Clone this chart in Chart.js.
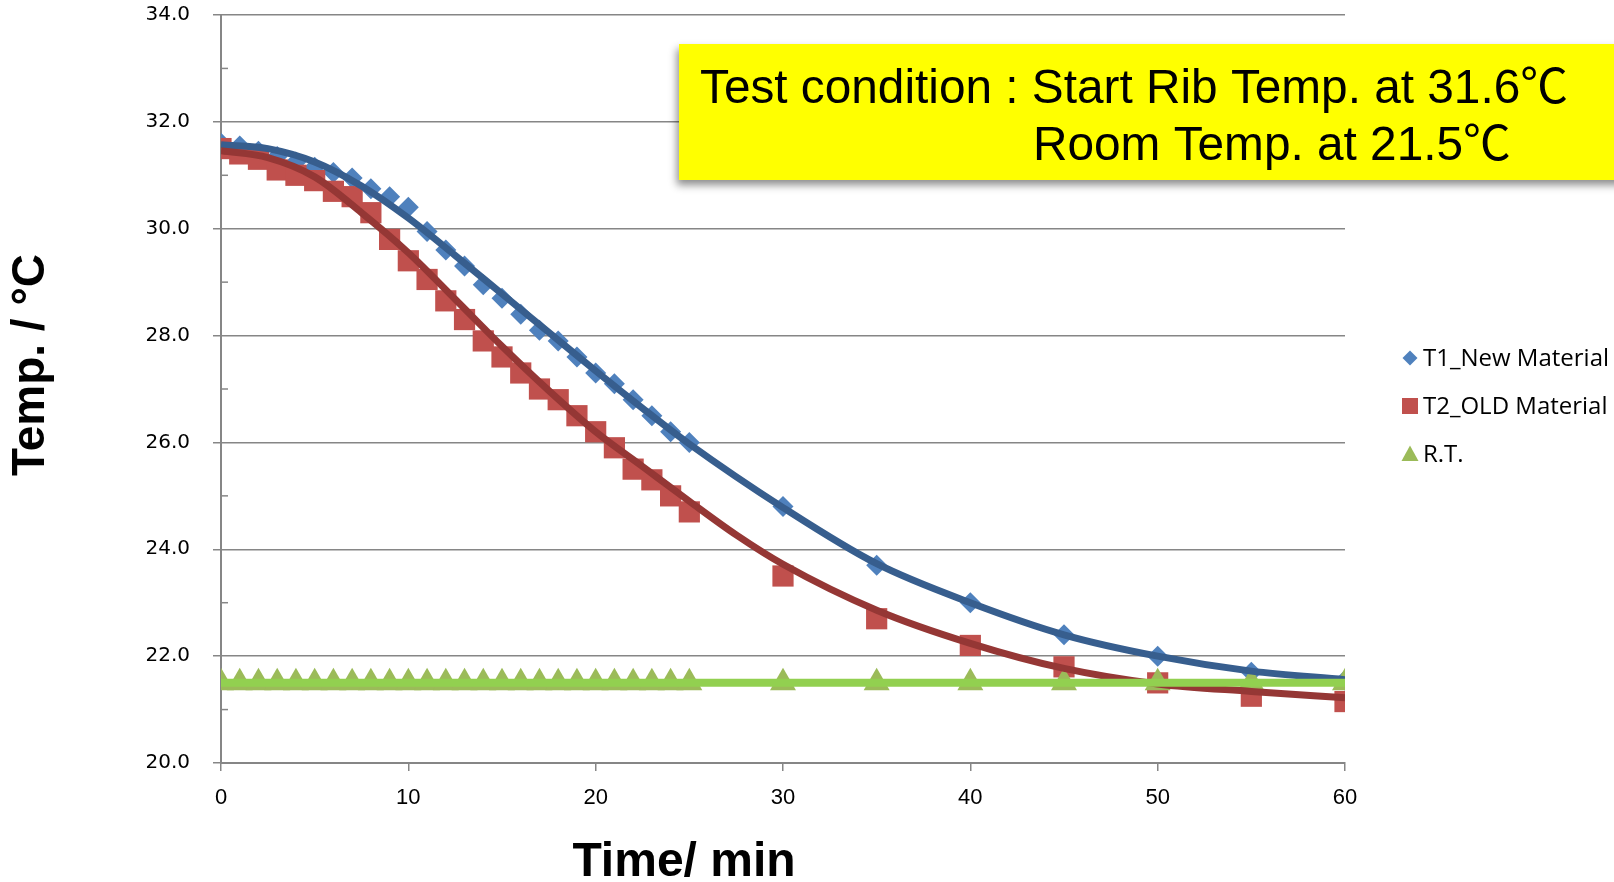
<!DOCTYPE html>
<html>
<head>
<meta charset="utf-8">
<script src="https://cdn.jsdelivr.net/npm/chart.js@4.4.0/dist/chart.umd.min.js"></script>
<style>
	html, body { margin: 0; padding: 0; background: #fff; }
	#wrap { width: 1614px; height: 882px; position: relative; }
</style>
</head>
<body>
<div id="wrap"><canvas id="chart"></canvas></div>
<script>
// measured points (min / deg C)
const minutes = [0, 1, 2, 3, 4, 5, 6, 7, 8, 9, 10, 11, 12, 13, 14, 15, 16, 17, 18, 19, 20, 21, 22, 23, 24, 25, 30, 35, 40, 45, 50, 55, 60];
const t1New = [31.6, 31.55, 31.45, 31.35, 31.25, 31.15, 31.05, 30.95, 30.75, 30.6, 30.4, 29.95, 29.6, 29.3, 28.95, 28.7, 28.4, 28.1, 27.9, 27.6, 27.3, 27.1, 26.8, 26.5, 26.2, 26.0, 24.8, 23.7, 23.0, 22.4, 22.0, 21.7, 21.55];
const t2Old = [31.5, 31.4, 31.3, 31.1, 31.0, 30.9, 30.7, 30.6, 30.3, 29.8, 29.4, 29.05, 28.65, 28.3, 27.9, 27.6, 27.3, 27.0, 26.8, 26.5, 26.2, 25.9, 25.5, 25.3, 25.0, 24.7, 23.5, 22.7, 22.2, 21.8, 21.5, 21.25, 21.15];
const roomTemp = [21.5, 21.5, 21.5, 21.5, 21.5, 21.5, 21.5, 21.5, 21.5, 21.5, 21.5, 21.5, 21.5, 21.5, 21.5, 21.5, 21.5, 21.5, 21.5, 21.5, 21.5, 21.5, 21.5, 21.5, 21.5, 21.5, 21.5, 21.5, 21.5, 21.5, 21.5, 21.5, 21.5];

// trend lines
const t1TrendMinutes = [0, 2.5, 5, 7.5, 10, 12.5, 15, 17.5, 20, 22.5, 25, 30, 35, 40, 45, 50, 55, 60];
const t1Trend = [31.57, 31.5, 31.25, 30.8, 30.2, 29.5, 28.78, 28.06, 27.34, 26.64, 25.97, 24.78, 23.73, 23.0, 22.4, 22.0, 21.72, 21.56];
const t2TrendMinutes = [0, 2.5, 5, 7.5, 10, 12.5, 15, 17.5, 20, 22.5, 25, 27.5, 30, 35, 40, 45, 50, 55, 60];
const t2Trend = [31.46, 31.33, 30.97, 30.3, 29.55, 28.68, 27.8, 26.97, 26.2, 25.55, 24.9, 24.27, 23.72, 22.86, 22.24, 21.77, 21.48, 21.34, 21.22];
const rtTrendMinutes = [0, 60];
const rtTrend = [21.5, 21.5];

const seriesNames = ['T1_New Material', 'T2_OLD Material', 'R.T.'];
const noteLines = ['Test condition : Start Rib Temp. at 31.6\u2103', 'Room Temp. at 21.5\u2103'];
const xTitle = 'Time/ min';
const yTitle = 'Temp. / \u00B0C';

const pairs = (xs, ys) => xs.map((x, i) => ({x: x, y: ys[i]}));

const GRID = '#868686';

const extras = {
	id: 'extras',
	beforeDatasetsDraw(chart) {
		const ctx = chart.ctx;
		const area = chart.chartArea;
		const y = chart.scales.y;
		ctx.save();
		ctx.strokeStyle = GRID;
		ctx.lineWidth = 1.5;
		for (let v = 21; v < 34; v += 2) {
			const py = y.getPixelForValue(v);
			ctx.beginPath();
			ctx.moveTo(area.left, py);
			ctx.lineTo(area.left + 7, py);
			ctx.stroke();
		}
		ctx.restore();
	},
	afterDraw(chart) {
		const ctx = chart.ctx;
		ctx.save();

		// axis titles
		ctx.fillStyle = '#000';
		ctx.font = 'bold 48px "Liberation Sans", Arial, sans-serif';
		ctx.textAlign = 'center';
		ctx.textBaseline = 'alphabetic';
		ctx.fillText(xTitle, 684, 876);

		ctx.save();
		ctx.translate(31, 365);
		ctx.rotate(-Math.PI / 2);
		ctx.font = 'bold 46px "Liberation Sans", Arial, sans-serif';
		ctx.textBaseline = 'middle';
		ctx.fillText(yTitle, 0, 0);
		ctx.restore();

		// legend
		const markers = [
			{shape: 'diamond', color: '#4F81BD'},
			{shape: 'square', color: '#C0504D'},
			{shape: 'triangle', color: '#9BBB59'}
		];
		ctx.font = '24px "Open Sans", sans-serif';
		ctx.textAlign = 'left';
		ctx.textBaseline = 'middle';
		markers.forEach((m, i) => {
			const cx = 1410, cy = 358 + i * 48;
			ctx.fillStyle = m.color;
			ctx.beginPath();
			if (m.shape === 'diamond') {
				ctx.moveTo(cx, cy - 7.5); ctx.lineTo(cx + 7.5, cy); ctx.lineTo(cx, cy + 7.5); ctx.lineTo(cx - 7.5, cy);
			} else if (m.shape === 'square') {
				ctx.rect(cx - 8, cy - 8, 16, 16);
			} else {
				ctx.moveTo(cx, cy - 8.5); ctx.lineTo(cx + 8.5, cy + 7); ctx.lineTo(cx - 8.5, cy + 7);
			}
			ctx.closePath();
			ctx.fill();
			ctx.fillStyle = '#000';
			ctx.fillText(seriesNames[i], 1423, cy + 1);
		});

		// yellow note box
		ctx.shadowColor = 'rgba(0,0,0,0.45)';
		ctx.shadowBlur = 8;
		ctx.shadowOffsetX = -2;
		ctx.shadowOffsetY = 5;
		ctx.fillStyle = '#FFFF00';
		ctx.fillRect(679, 44, 950, 136);
		ctx.shadowColor = 'transparent';

		ctx.fillStyle = '#000';
		ctx.font = '48px "Liberation Sans", Arial, "Noto Sans CJK JP", sans-serif';
		ctx.textAlign = 'left';
		ctx.textBaseline = 'alphabetic';
		const sx = 868 / ctx.measureText(noteLines[0]).width;
		ctx.save();
		ctx.translate(700, 103);
		ctx.scale(sx, 1);
		ctx.fillText(noteLines[0], 0, 0);
		ctx.restore();
		ctx.save();
		ctx.translate(1033, 160);
		ctx.scale(sx, 1);
		ctx.fillText(noteLines[1], 0, 0);
		ctx.restore();

		ctx.restore();
	}
};

new Chart(document.getElementById('chart'), {
	type: 'scatter',
	data: {
		datasets: [{
			label: 'R.T. line',
			data: pairs(rtTrendMinutes, rtTrend),
			showLine: true,
			pointRadius: 0,
			borderColor: '#92D050',
			borderWidth: 8,
			order: 0
		}, {
			label: 'T2 line',
			data: pairs(t2TrendMinutes, t2Trend),
			showLine: true,
			pointRadius: 0,
			borderColor: '#953735',
			borderWidth: 7,
			cubicInterpolationMode: 'monotone',
			order: 1
		}, {
			label: 'T1 line',
			data: pairs(t1TrendMinutes, t1Trend),
			showLine: true,
			pointRadius: 0,
			borderColor: '#375E8E',
			borderWidth: 7,
			cubicInterpolationMode: 'monotone',
			order: 2
		}, {
			label: seriesNames[2],
			data: pairs(minutes, roomTemp),
			pointStyle: 'triangle',
			pointRadius: 15,
			pointBorderWidth: 0,
			backgroundColor: '#9BBB59',
			borderColor: '#9BBB59',
			order: 3
		}, {
			label: seriesNames[1],
			data: pairs(minutes, t2Old),
			pointStyle: 'rect',
			pointRadius: 15,
			pointBorderWidth: 0,
			backgroundColor: '#C0504D',
			borderColor: '#C0504D',
			order: 4
		}, {
			label: seriesNames[0],
			data: pairs(minutes, t1New),
			pointStyle: 'rectRot',
			pointRadius: 10.5,
			pointBorderWidth: 0,
			backgroundColor: '#4F81BD',
			borderColor: '#4F81BD',
			order: 5
		}]
	},
	options: {
		responsive: true,
		maintainAspectRatio: false,
		animation: false,
		layout: { padding: { top: 13, right: 269, bottom: 0, left: 0 } },
		plugins: {
			legend: { display: false },
			tooltip: { enabled: false }
		},
		scales: {
			x: {
				type: 'linear',
				min: 0,
				max: 60,
				afterFit: (scale) => { scale.height = 119; },
				ticks: {
					stepSize: 10,
					color: '#000',
					padding: 14,
					font: { family: '"Liberation Sans", Arial, sans-serif', size: 22 }
				},
				grid: { drawOnChartArea: false, drawTicks: true, tickLength: 8, color: GRID, lineWidth: 1.5 },
				border: { color: GRID, width: 2 }
			},
			y: {
				min: 20,
				max: 34,
				afterFit: (scale) => {
					scale.width = 221;
					scale.paddingTop = 0;
					scale.paddingBottom = 0;
				},
				ticks: {
					stepSize: 2,
					color: '#000',
					padding: 23,
					font: { family: '"DejaVu Sans", sans-serif', size: 20 },
					callback: (v) => v.toFixed(1)
				},
				grid: { color: GRID, lineWidth: 1.5, tickLength: 8 },
				border: { color: GRID, width: 2 }
			}
		}
	},
	plugins: [extras]
});
</script>
</body>
</html>
